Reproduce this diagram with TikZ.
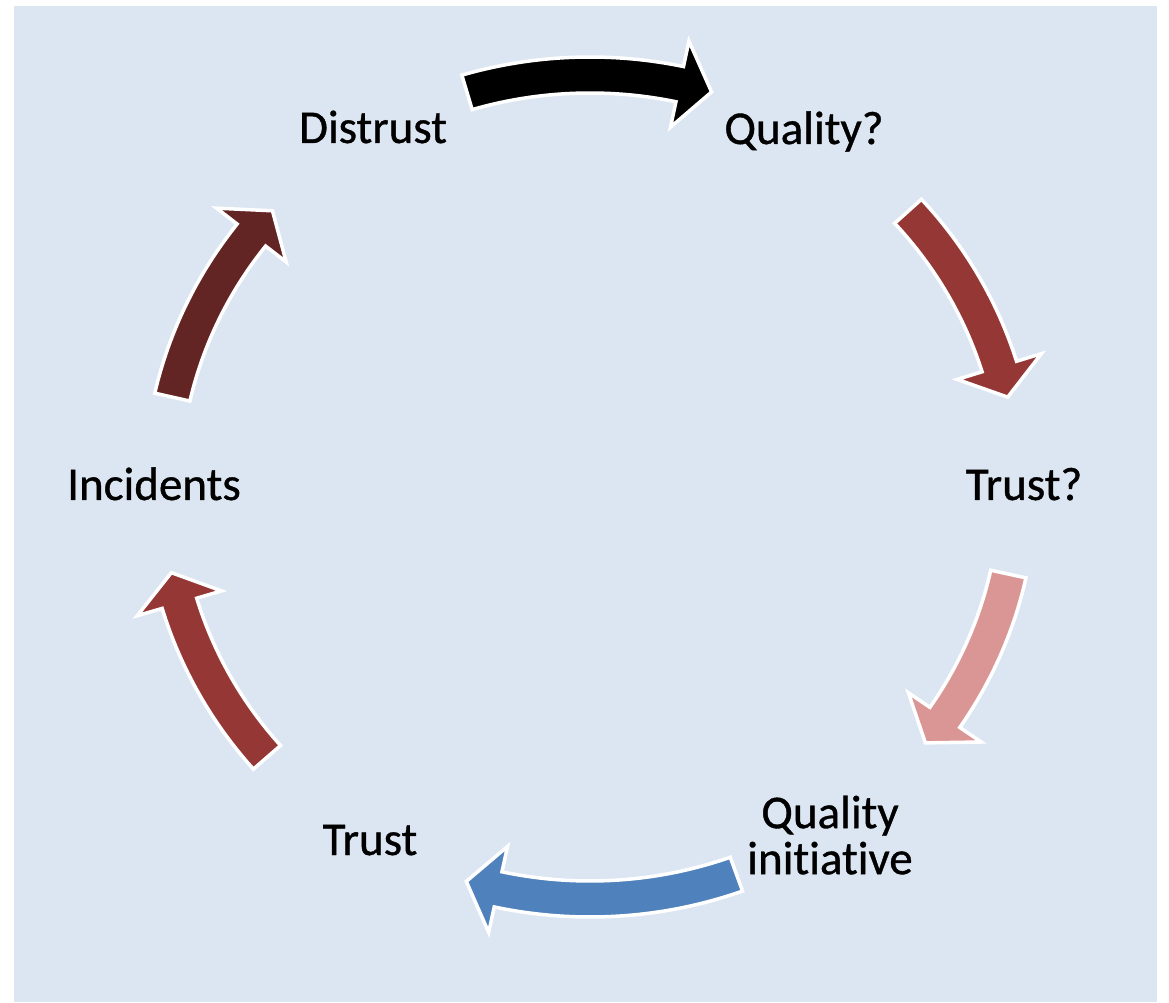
\documentclass[tikz,border=0pt]{standalone}
\usepackage{fontspec}
\setmainfont{Carlito}[Ligatures=NoCommon, FakeBold=0.8]
\usepackage{xcolor}
\usepackage{tikz}
\definecolor{bgblue}{HTML}{DCE6F2}
\definecolor{redarrow}{HTML}{953735}
\definecolor{darkarrow}{HTML}{632523}
\definecolor{pinkarrow}{HTML}{D99694}
\definecolor{bluearrow}{HTML}{4F81BD}

% curved block arrow on the cycle: tail angle, tip angle, colour
\newcommand{\cyclearrow}[3]{%
  \pgfmathsetmacro\hbase{#2+4.4}
  \path[cyc, fill=#3] (#1:446 and 430) arc[start angle=#1, end angle=\hbase, x radius=446, y radius=430]
    -- (\hbase:472 and 456) -- (#2:428 and 412) -- (\hbase:384 and 368)
    -- (\hbase:410 and 394) arc[start angle=\hbase, end angle=#1, x radius=410, y radius=394] -- cycle;}

\begin{document}
\begin{tikzpicture}[x=1pt, y=1pt,
  lbl/.style={font=\fontsize{47}{46}\selectfont, inner sep=0pt, align=center},
  cyc/.style={draw=white, line width=3.5pt, line join=miter}]
\useasboundingbox (0,0) rectangle (1169,1002);
% Background panel
\fill[bgblue] (14,0) rectangle (1157,996);

% Labels round the cycle
\coordinate (c) at (590,515);
\node[lbl, anchor=base] (dis) at (373,859) {Distrust};
\node[lbl, anchor=base] (qual) at (804,858) {Quality?};
\node[lbl, anchor=base] (trq) at (1024,502) {Trust?};
\node[lbl] (qi) at (830,167) {Quality\\initiative};
\node[lbl, anchor=base] (tru) at (370,147) {Trust};
\node[lbl, anchor=base] (inc) at (154,502) {Incidents};

% Arrows between the labels, clockwise
\begin{scope}[shift={(c)}]
\cyclearrow{106.7}{73.5}{black}
\cyclearrow{42}{12.6}{redarrow}
\cyclearrow{-12.2}{-38.4}{pinkarrow}
\cyclearrow{-70}{-106.8}{bluearrow}
\cyclearrow{221}{192}{redarrow}
\cyclearrow{167.4}{137.9}{darkarrow}
\end{scope}

\end{tikzpicture}
\end{document}
